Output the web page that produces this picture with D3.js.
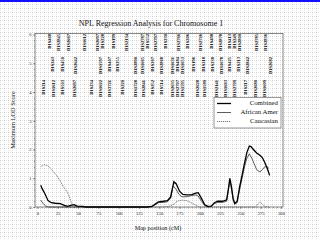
<!DOCTYPE html>
<html><head><meta charset="utf-8">
<script src="https://cdn.jsdelivr.net/npm/d3@7"></script>
<style>html,body{margin:0;padding:0;background:#fff;}svg{display:block;}</style>
</head><body>
<svg id="c" width="320" height="240"></svg>
<script>
// ---------- data ----------
const xTicks = [0,25,50,75,100,125,150,175,200,225,250,275,300];
const yTicks = [0,1,2,3,4,5,6];
const seriesNames = ["Combined","African Amer","Caucasian"];

const combined = [[4,0.76],[6,0.62],[9,0.47],[13,0.22],[17,0.15],[22,0.13],[28,0.12],[33,0.06],[37,0.02],[41,0.06],[45,0.08],[49,0.03],[55,0.02],[60,0],[80,0],[100,0],[120,0],[135,0],[141,0.02],[145,0.1],[149,0.18],[155,0.2],[160,0.22],[164,0.35],[168,0.88],[171,0.8],[175,0.55],[179,0.44],[184,0.42],[190,0.43],[195,0.48],[198,0.5],[202,0.3],[206,0.08],[210,0.02],[214,0.03],[218,0.15],[222,0.2],[228,0.2],[233,0.25],[235,0.6],[237,1.0],[239,0.7],[241,0.3],[243,0.12],[246,0.2],[249,0.7],[252,1.1],[255,1.52],[258,1.9],[261,2.12],[263,2.1],[266,2.0],[270,1.88],[274,1.8],[277,1.72],[280,1.55],[283,1.35],[286,1.1]];
const africanAmer = [[4,0.24],[7,0.12],[10,0.03],[13,0],[60,0],[100,0],[135,0],[141,0.02],[145,0.08],[149,0.15],[155,0.16],[160,0.18],[164,0.3],[167,0.73],[170,0.65],[174,0.45],[178,0.35],[184,0.36],[190,0.4],[195,0.42],[198,0.38],[202,0.2],[206,0.05],[210,0],[214,0.02],[218,0.12],[222,0.16],[228,0.16],[233,0.2],[235,0.55],[237,0.92],[239,0.62],[241,0.25],[243,0.1],[246,0.15],[249,0.6],[252,1.0],[255,1.4],[258,1.7],[261,1.85],[264,1.7],[267,1.5],[270,1.3],[274,1.22],[277,1.3],[280,1.4],[283,1.4],[285,1.35]];
const caucasian = [[4,1.40],[6,1.45],[9,1.47],[12,1.44],[15,1.38],[19,1.25],[24,1.08],[28,0.9],[32,0.7],[36,0.55],[39,0.38],[41,0.2],[43,0.08],[45,0.02],[48,0],[100,0],[150,0],[162,0.02],[168,0.1],[172,0.2],[178,0.24],[184,0.22],[190,0.14],[196,0.05],[200,0],[268,0],[271,0.08],[274,0.18],[277,0.1],[280,0.02],[286,0]];

// marker map positions (cM) and names, three label tiers
const markersTopPos = [15,26,38,58,74,80,93,110,129,135,145,158,174,185,201,214,225,236,243,249,270,281];
const markersTopName = ["D1S468","D1S2845","D1S2667","D1S1612","D1S2697","D1S228","D1S199","D1S2134","D1S2787","D1S552","D1S2797","D1S230","D1S2766","D1S206","D1S2726","D1S498","D1S2878","D1S413","D1S249","D1S2800","D1S2785","D1S2836"];
const markersMidPos = [18,31,47,77,88,98,120,129,141,153,166,172,179,192,204,215,227,237,247,258,287];
const markersMidName = ["D1S243","D1S450","D1S2642","D1S1597","D1S407","D1S255","D1S2890","D1S1665","D1S207","D1S2868","D1S1631","D1S484","D1S1653","D1S196","D1S218","D1S238","D1S1678","D1S425","D1S213","D1S2842","D1S2682"];
const markersBotPos = [7,19,31,46,67,77,89,104,120,130,142,153,166,172,179,197,206,221,231,243,256,269,280];
const markersBotName = ["D1S214","D1S1612","D1S503","D1S2697","D1S234","D1S1622","D1S3721","D1S220","D1S1728","D1S2841","D1S252","D1S514","D1S2635","D1S2707","D1S1595","D1S2628","D1S1589","D1S2141","D1S1663","D1S2709","D1S217","D1S2680","D1S1609"];

// ---------- drawing ----------
const svg = d3.select("#c");
const defs = svg.append("defs");
const pat = defs.append("pattern").attr("id","dots").attr("width",4).attr("height",4).attr("patternUnits","userSpaceOnUse");
pat.append("rect").attr("x",0).attr("y",0).attr("width",1).attr("height",1).attr("fill","#cfcfcf");
pat.append("rect").attr("x",2).attr("y",0).attr("width",1).attr("height",1).attr("fill","#e2e2e2");
pat.append("rect").attr("x",0).attr("y",2).attr("width",1).attr("height",1).attr("fill","#e2e2e2");

svg.append("rect").attr("width",320).attr("height",240).attr("fill","#fff");
svg.append("rect").attr("width",320).attr("height",240).attr("fill","url(#dots)");
svg.append("rect").attr("x",0).attr("y",0).attr("width",320).attr("height",2).attr("fill","#1010ff");

const x = d3.scaleLinear().domain([0,300]).range([37.5,281]);
const y = d3.scaleLinear().domain([0,6]).range([207,34.5]);
const L = 35, R = 283, T = 33.5, B = 207;

// frame
svg.append("rect").attr("x",L).attr("y",T).attr("width",R-L).attr("height",B-T)
  .attr("fill","none").attr("stroke","#555").attr("stroke-width",0.7);

const serif = "'Liberation Serif','DejaVu Serif',serif";

// x axis
const xAxis = svg.append("g").attr("transform",`translate(0,${B})`);
xAxis.call(d3.axisBottom(x).tickValues(xTicks).tickSize(2).tickPadding(3).tickFormat(d3.format("d")));
xAxis.append("g").call(d3.axisBottom(x).tickValues(d3.range(0,301,5)).tickSize(1).tickFormat(""));
xAxis.selectAll(".domain").remove();
xAxis.selectAll("line").attr("stroke","#444").attr("stroke-width",0.5);
xAxis.selectAll("text").attr("font-family",serif).attr("font-size",4.6).attr("fill","#222");

// y axis
const yAxis = svg.append("g").attr("transform",`translate(${L},0)`);
yAxis.call(d3.axisLeft(y).tickValues(yTicks).tickSize(2).tickPadding(1.5).tickFormat(d3.format("d")));
yAxis.append("g").call(d3.axisLeft(y).tickValues(d3.range(0,6.01,0.2)).tickSize(1).tickFormat(""));
yAxis.selectAll(".domain").remove();
yAxis.selectAll("line").attr("stroke","#444").attr("stroke-width",0.5);
yAxis.selectAll("text").attr("font-family",serif).attr("font-size",4.6).attr("fill","#222");

// titles
svg.append("text").attr("x",151).attr("y",25.5).attr("text-anchor","middle")
  .attr("font-family",serif).attr("font-size",8).attr("fill","#111").text("NPL Regression Analysis for Chromosome 1");
svg.append("text").attr("x",158).attr("y",230).attr("text-anchor","middle")
  .attr("font-family",serif).attr("font-size",6.2).attr("fill","#111").text("Map position (cM)");
svg.append("text").attr("transform","translate(15,120) rotate(-90)").attr("text-anchor","middle")
  .attr("font-family",serif).attr("font-size",6.4).attr("fill","#111").text("Maximum LOD Score");

// marker labels
function tier(pos, names, topY){
  svg.append("g").selectAll("text").data(d3.zip(pos,names)).join("text")
    .attr("transform",d=>`translate(${x(d[0])+1.6},${topY}) rotate(-90)`)
    .attr("text-anchor","end")
    .attr("font-family",serif).attr("font-size",4.5).attr("font-weight","bold").attr("fill","#000")
    .text(d=>d[1]);
}
tier(markersTopPos, markersTopName, 34);
tier(markersMidPos, markersMidName, 57);
tier(markersBotPos, markersBotName, 80);

// lines
const line = d3.line().x(d=>x(d[0])).y(d=>y(d[1]));
svg.append("path").datum(caucasian).attr("d",line).attr("fill","none")
  .attr("stroke","#777").attr("stroke-width",1).attr("stroke-dasharray","1.2,0.8");
svg.append("path").datum(africanAmer).attr("d",line).attr("fill","none")
  .attr("stroke","#333").attr("stroke-width",0.8);
svg.append("path").datum(combined).attr("d",line).attr("fill","none")
  .attr("stroke","#000").attr("stroke-width",1.3);

// legend
const lg = svg.append("g");
lg.append("rect").attr("x",214).attr("y",97.5).attr("width",67).attr("height",30.5)
  .attr("fill","#fff").attr("stroke","#555").attr("stroke-width",0.6);
const styles = [{c:"#000",w:1.3,d:null},{c:"#333",w:0.8,d:null},{c:"#777",w:1,d:"1.2,0.8"}];
seriesNames.forEach((n,i)=>{
  const yy = 105 + i*9;
  lg.append("line").attr("x1",217).attr("x2",231).attr("y1",yy-1.5).attr("y2",yy-1.5)
    .attr("stroke",styles[i].c).attr("stroke-width",styles[i].w).attr("stroke-dasharray",styles[i].d);
  lg.append("text").attr("x",278).attr("y",yy).attr("text-anchor","end")
    .attr("font-family",serif).attr("font-size",6.8).attr("fill","#111").text(n);
});
</script>
</body></html>
